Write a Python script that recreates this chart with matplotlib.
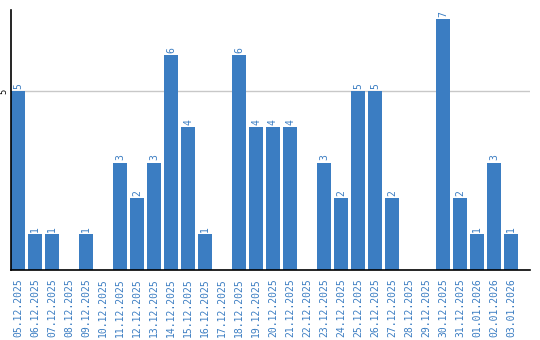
import matplotlib
matplotlib.use('Agg')
import matplotlib.pyplot as plt

dates = ['05.12.2025', '06.12.2025', '07.12.2025', '08.12.2025', '09.12.2025',
         '10.12.2025', '11.12.2025', '12.12.2025', '13.12.2025', '14.12.2025',
         '15.12.2025', '16.12.2025', '17.12.2025', '18.12.2025', '19.12.2025',
         '20.12.2025', '21.12.2025', '22.12.2025', '23.12.2025', '24.12.2025',
         '25.12.2025', '26.12.2025', '27.12.2025', '28.12.2025', '29.12.2025',
         '30.12.2025', '31.12.2025', '01.01.2026', '02.01.2026', '03.01.2026']
counts = [5, 1, 1, 0, 1, 0, 3, 2, 3, 6, 4, 1, 0, 6, 4, 4, 4, 0, 3, 2,
          5, 5, 2, 0, 0, 7, 2, 1, 3, 1]

BLUE = '#3b7dc2'

fig = plt.figure(figsize=(5.4, 3.4), dpi=100)
ax = fig.add_axes([11/540, 70/340, 519/540, 260/340])

x = list(range(len(dates)))
bars = ax.bar(x, counts, width=14/17, color=BLUE, zorder=2)

for xi, v in zip(x, counts):
    if v > 0:
        ax.text(xi, v + 0.06, str(v), rotation=90, ha='center', va='bottom',
                fontsize=7, color=BLUE, family='DejaVu Sans Mono')

ax.set_xlim(-7/17, -7/17 + 519/17)
ax.set_ylim(0, 260/35.8)
ax.set_yticks([5])
ax.set_yticklabels(['5'], rotation=90, va='center', fontsize=6)
ax.set_xticks(x)
ax.set_xticklabels(dates, rotation=90, fontsize=7, color=BLUE,
                   family='DejaVu Sans Mono')
ax.tick_params(length=0, pad=6)
ax.tick_params(axis='y', pad=2)
ax.yaxis.grid(True, color='#c8c8c8', lw=1, zorder=0)

for s in ['top', 'right']:
    ax.spines[s].set_visible(False)
ax.spines['left'].set_linewidth(1.2)
ax.spines['bottom'].set_linewidth(1.2)

fig.savefig('out.png', dpi=100)
